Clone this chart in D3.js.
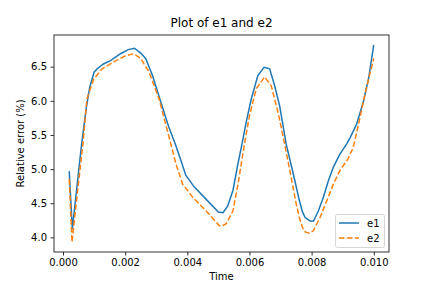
<!DOCTYPE html>
<html>
<head>
<meta charset="utf-8">
<script src="https://cdn.jsdelivr.net/npm/d3@7"></script>
<style>
  body { margin: 0; background: #fff; }
  text { font-family: "DejaVu Sans", sans-serif; }
</style>
</head>
<body>
<script>
// data
const t1 = [0.0002, 0.0003, 0.00045, 0.0006, 0.00075, 0.00086, 0.001, 0.0011, 0.0013, 0.00153, 0.00185, 0.0021, 0.0023, 0.0025, 0.00266, 0.00288, 0.00315, 0.0034, 0.00361, 0.0038, 0.00395, 0.00422, 0.0046, 0.005, 0.00515, 0.0053, 0.00547, 0.00563, 0.00576, 0.0059, 0.00606, 0.00627, 0.00647, 0.00665, 0.00681, 0.00697, 0.00718, 0.0074, 0.0076, 0.0077, 0.00779, 0.00795, 0.00806, 0.00822, 0.00838, 0.00854, 0.0087, 0.00891, 0.00913, 0.00924, 0.00945, 0.00966, 0.00983, 0.01];
const e1 = [4.97, 4.12, 4.75, 5.37, 5.9, 6.2, 6.42, 6.47, 6.54, 6.59, 6.69, 6.75, 6.77, 6.7, 6.62, 6.37, 5.98, 5.62, 5.37, 5.12, 4.91, 4.74, 4.56, 4.37, 4.36, 4.46, 4.69, 5.08, 5.37, 5.7, 6.03, 6.37, 6.49, 6.47, 6.22, 5.93, 5.37, 4.95, 4.55, 4.38, 4.29, 4.24, 4.24, 4.39, 4.59, 4.83, 5.03, 5.22, 5.37, 5.46, 5.66, 5.98, 6.32, 6.82];
const t2 = [0.0002, 0.00029, 0.00045, 0.00064, 0.00077, 0.00099, 0.00126, 0.00163, 0.00201, 0.00228, 0.0025, 0.00277, 0.00309, 0.00347, 0.00363, 0.00385, 0.00417, 0.0046, 0.00503, 0.0051, 0.00525, 0.00547, 0.00563, 0.00584, 0.006, 0.00622, 0.00649, 0.0067, 0.00692, 0.00713, 0.00729, 0.0075, 0.0076, 0.0077, 0.00779, 0.00793, 0.00806, 0.00827, 0.00849, 0.0087, 0.00891, 0.00917, 0.00934, 0.00955, 0.00971, 0.00986, 0.01];
const e2 = [4.85, 3.93, 4.6, 5.37, 6.03, 6.32, 6.47, 6.57, 6.66, 6.69, 6.62, 6.42, 6.03, 5.37, 5.08, 4.78, 4.59, 4.39, 4.17, 4.16, 4.2, 4.39, 4.78, 5.37, 5.78, 6.18, 6.35, 6.22, 5.83, 5.37, 5.0, 4.5, 4.3, 4.15, 4.08, 4.06, 4.1, 4.29, 4.54, 4.78, 4.98, 5.15, 5.32, 5.74, 6.08, 6.37, 6.62];
const xTicks = [0, 0.002, 0.004, 0.006, 0.008, 0.010];
const yTicks = [4.0, 4.5, 5.0, 5.5, 6.0, 6.5];
const seriesNames = ["e1", "e2"];
const colors = ["#1f77b4", "#ff7f0e"];

const width = 432, height = 288;
const margin = { top: 35, right: 43, bottom: 36, left: 54 };
const innerW = width - margin.left - margin.right;
const innerH = height - margin.top - margin.bottom;

const svg = d3.select("body")
    .append("svg")
    .attr("width", width)
    .attr("height", height);

const g = svg.append("g")
    .attr("transform", `translate(${margin.left},${margin.top})`);

// matplotlib-style 5% margins
const xMin = 0.0002, xMax = 0.01;
const yMin = 3.93, yMax = 6.82;
const xPad = (xMax - xMin) * 0.05, yPad = (yMax - yMin) * 0.05;

const xScale = d3.scaleLinear().domain([xMin - xPad, xMax + xPad]).range([0, innerW]);
const yScale = d3.scaleLinear().domain([yMin - yPad, yMax + yPad]).range([innerH, 0]);

const line = d3.line()
    .x(d => xScale(d[0]))
    .y(d => yScale(d[1]))
    .curve(d3.curveLinear);

const data1 = t1.map((t, i) => [t, e1[i]]);
const data2 = t2.map((t, i) => [t, e2[i]]);

g.append("path")
    .datum(data1)
    .attr("fill", "none")
    .attr("stroke", colors[0])
    .attr("stroke-width", 1.5)
    .attr("d", line);

g.append("path")
    .datum(data2)
    .attr("fill", "none")
    .attr("stroke", colors[1])
    .attr("stroke-width", 1.5)
    .attr("stroke-dasharray", "5.55,2.4")
    .attr("d", line);

// axes
const xAxis = d3.axisBottom(xScale).tickValues(xTicks).tickFormat(d3.format(".3f")).tickSize(3.5).tickPadding(3.5);
const yAxis = d3.axisLeft(yScale).tickValues(yTicks).tickFormat(d3.format(".1f")).tickSize(3.5).tickPadding(3.5);

const xAxisGroup = g.append("g")
    .attr("transform", `translate(0,${innerH})`)
    .call(xAxis);
const yAxisGroup = g.append("g")
    .call(yAxis);

[xAxisGroup, yAxisGroup].forEach(ax => {
    ax.select(".domain").remove();
    ax.selectAll(".tick line").attr("stroke", "#000").attr("stroke-width", 0.8);
    ax.selectAll(".tick text").attr("fill", "#000").attr("font-size", 10)
        .style("font-family", "DejaVu Sans, sans-serif");
});

// frame
g.append("rect")
    .attr("width", innerW)
    .attr("height", innerH)
    .attr("fill", "none")
    .attr("stroke", "#000")
    .attr("stroke-width", 0.8);

// title and labels
svg.append("text")
    .attr("x", margin.left + innerW / 2)
    .attr("y", 27)
    .attr("text-anchor", "middle")
    .attr("font-size", 12)
    .text("Plot of e1 and e2");

svg.append("text")
    .attr("x", margin.left + innerW / 2)
    .attr("y", 280)
    .attr("text-anchor", "middle")
    .attr("font-size", 10)
    .text("Time");

svg.append("text")
    .attr("transform", `translate(24,${margin.top + innerH / 2}) rotate(-90)`)
    .attr("text-anchor", "middle")
    .attr("font-size", 10)
    .text("Relative error (%)");

// legend
const legend = svg.append("g")
    .attr("transform", "translate(335.5,214.5)");

legend.append("rect")
    .attr("width", 49)
    .attr("height", 33)
    .attr("rx", 2)
    .attr("fill", "#fff")
    .attr("fill-opacity", 0.8)
    .attr("stroke", "#ccc")
    .attr("stroke-width", 0.8);

seriesNames.forEach((name, i) => {
    const yy = 8.5 + i * 15;
    legend.append("line")
        .attr("x1", 3.5).attr("x2", 23.5)
        .attr("y1", yy).attr("y2", yy)
        .attr("stroke", colors[i])
        .attr("stroke-width", 1.5)
        .attr("stroke-dasharray", i === 1 ? "5.55,2.4" : null);
    legend.append("text")
        .attr("x", 31.5)
        .attr("y", yy + 3.5)
        .attr("font-size", 10)
        .text(name);
});
</script>
</body>
</html>
